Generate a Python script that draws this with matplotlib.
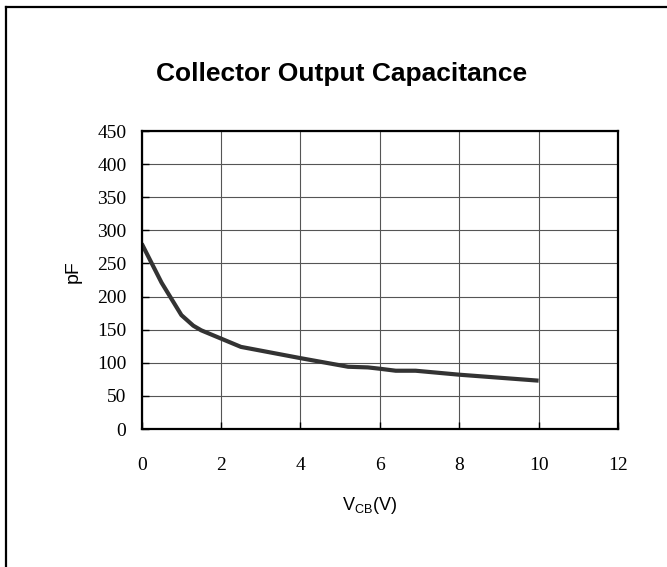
import matplotlib
matplotlib.use("Agg")
import matplotlib.pyplot as plt
from matplotlib.lines import Line2D

# Data
vcb = [0.0, 0.5, 1.0, 1.3, 1.5, 2.5, 4.0, 5.2, 5.7, 6.0, 6.4, 6.9, 8.0, 10.0]
cap = [280, 221, 172, 156, 149, 124, 107, 94, 93, 91, 88, 88, 82, 73]
x_ticks = [0, 2, 4, 6, 8, 10, 12]
y_ticks = [0, 50, 100, 150, 200, 250, 300, 350, 400, 450]

plt.rcParams['mathtext.fontset'] = 'custom'
plt.rcParams['mathtext.rm'] = 'Liberation Sans'
plt.rcParams['mathtext.it'] = 'Liberation Sans'

W, H = 667, 567
fig = plt.figure(figsize=(W / 100, H / 100), dpi=100)
fig.patch.set_facecolor('white')

ax = fig.add_axes([141.7 / W, 1 - 429 / H, (618 - 141.7) / W, (429 - 131) / H])
ax.plot(vcb, cap, color='#333333', linewidth=3.0, solid_capstyle='butt', zorder=3)

ax.set_xlim(0, 12)
ax.set_ylim(0, 450)
ax.set_xticks(x_ticks)
ax.set_yticks(y_ticks)
ax.set_xticklabels([str(t) for t in x_ticks])
ax.set_yticklabels([str(t) for t in y_ticks])
ax.grid(True, color='#555555', linewidth=0.8)
ax.set_axisbelow(True)

for s in ax.spines.values():
    s.set_linewidth(1.6)
    s.set_color('black')
    s.set_zorder(4)

ax.tick_params(axis='y', direction='in', length=5, width=1, pad=11,
               labelsize=14, left=True, right=False)
ax.tick_params(axis='x', direction='in', length=5, width=1, pad=20,
               labelsize=14, bottom=True, top=False)
for lab in ax.get_xticklabels() + ax.get_yticklabels():
    lab.set_fontfamily('Liberation Serif')

fig.text(342 / W, 1 - 74 / H, 'Collector Output Capacitance',
         ha='center', va='center', fontsize=19, fontweight='bold',
         family='Liberation Sans')

fig.text(73 / W, 1 - 272 / H, 'pF', rotation=90, ha='center', va='center',
         fontsize=14, family='Liberation Sans')
fig.text(370 / W, 1 - 505 / H, r'V$_{\mathrm{CB}}$(V)', ha='center', va='center',
         fontsize=13, family='Liberation Sans')

# figure frame (top and left)
fig.add_artist(Line2D([6 / W, 1.0], [1 - 7 / H, 1 - 7 / H], color='black',
                      linewidth=1.6, transform=fig.transFigure))
fig.add_artist(Line2D([6 / W, 6 / W], [0, 1 - 7 / H], color='black',
                      linewidth=1.6, transform=fig.transFigure))

fig.savefig('out.png', dpi=100)
